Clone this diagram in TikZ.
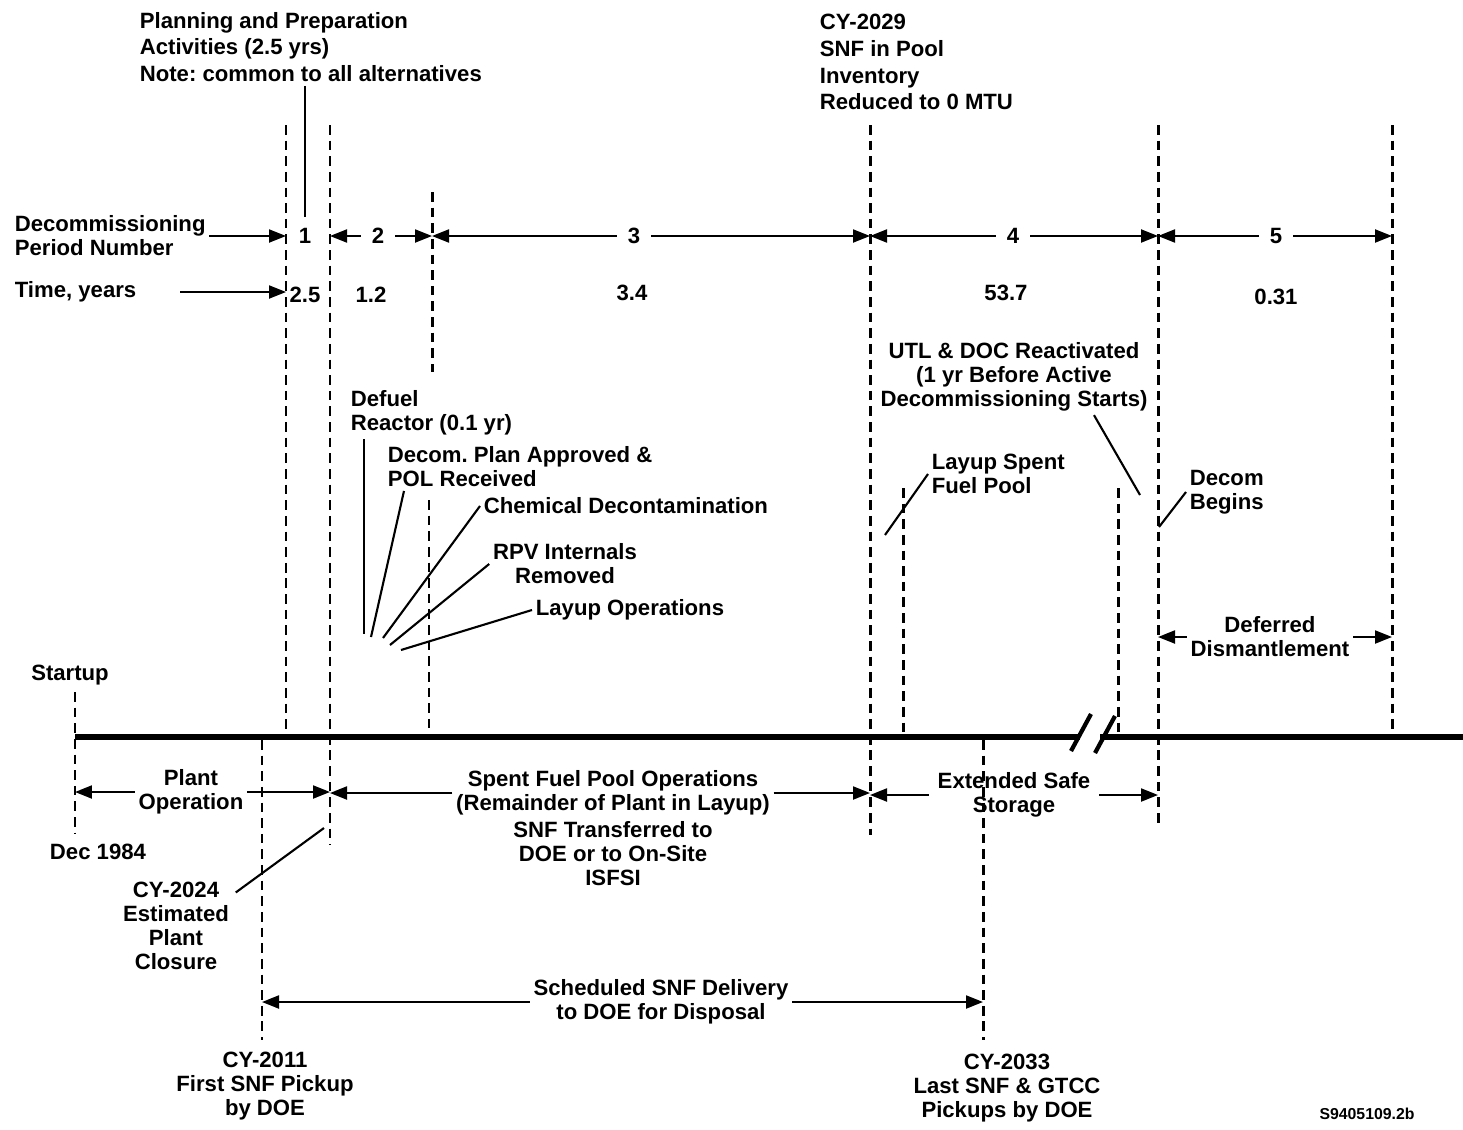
\documentclass[tikz,border=0pt]{standalone}
\usepackage{fontspec}
\setmainfont{Liberation Sans}
\usetikzlibrary{arrows.meta,positioning}
\frenchspacing

\begin{document}
\begin{tikzpicture}[x=0.02cm, y=-0.02cm,
  every node/.style={font=\bfseries\fontsize{12.6}{13.6}\selectfont, align=center, inner sep=2pt},
  toptext/.style={anchor=west, align=left, font=\bfseries\fontsize{12.6}{15.3}\selectfont},
  lefttext/.style={anchor=west, align=left},
  period/.style={inner sep=6pt},
  guide/.style={line width=1.7pt, dash pattern=on 5.5pt off 3.4pt},
  pointer/.style={line width=1.2pt},
  span/.style={line width=1.2pt, -{Triangle[length=0.34cm,width=0.26cm]}},
  axis/.style={line width=3.4pt}]
  \useasboundingbox (0,0) rectangle (1463,1129);

  % dashed guides
  \draw[guide] (75,692) coordinate (gA) -- (75,833);
  \draw[guide] (286,125) coordinate (gB) -- (286,735);
  \draw[guide] (330,125) coordinate (gC) -- (330,845);
  \draw[guide] (432,192) coordinate (gD) -- (432,372);
  \draw[guide] (429,500) coordinate (gL) -- (429,728);
  \draw[guide] (262,740) coordinate (gH) -- (262,1040);
  \draw[guide] (870,125) coordinate (gE) -- (870,835);
  \draw[guide] (903,488) coordinate (gJ) -- (903,733);
  \draw[guide] (1118,488) coordinate (gK) -- (1118,733);
  \draw[guide] (1158,125) coordinate (gF) -- (1158,825);
  \draw[guide] (1392,125) coordinate (gG) -- (1392,735);
  \draw[guide] (983,740) coordinate (gI) -- (983,1040);

  % time axis with break
  \draw[axis] (75,737) -- (1080,737);
  \draw[axis] (1100,737) -- (1463,737);
  \draw[line width=2.4pt] (1071,751) -- (1091,714);
  \draw[line width=2.4pt] (1095,753) -- (1115,716);

  % top notes
  \node[toptext] (PL) at (136,47) {Planning and Preparation\\Activities (2.5 yrs)\\Note: common to all alternatives};
  \node[toptext] (CY29) at (816,62) {CY-2029\\SNF in Pool\\Inventory\\Reduced to 0 MTU};

  % period numbers
  \node[lefttext] (DPN) at (11,236) {Decommissioning\\Period Number};
  \node[period] (N1) at (305,236) {1};
  \node[period] (N2) at (378,236) {2};
  \node[period] (N3) at (634,236) {3};
  \node[period] (N4) at (1013,236) {4};
  \node[period] (N5) at (1276,236) {5};
  \draw[pointer] (PL.south -| N1) -- (N1.north);
  \draw[span] (DPN.east) -- (DPN.east -| gB);
  \draw[span] (N2.west) -- (N2 -| gC);
  \draw[span] (N2.east) -- (N2 -| gD);
  \draw[span] (N3.west) -- (N3 -| gD);
  \draw[span] (N3.east) -- (N3 -| gE);
  \draw[span] (N4.west) -- (N4 -| gE);
  \draw[span] (N4.east) -- (N4 -| gF);
  \draw[span] (N5.west) -- (N5 -| gF);
  \draw[span] (N5.east) -- (N5 -| gG);

  % durations
  \node[lefttext] (TY) at (11,292) {Time, years};
  \node (T1) at (305,295) {2.5};
  \node (T2) at (371,295) {1.2};
  \node (T3) at (632,293) {3.4};
  \node (T4) at (1006,293) {53.7};
  \node (T5) at (1276,297) {0.31};
  \draw[span] ([xshift=0.8cm]TY.east) -- (TY.east -| gB);

  % early events
  \coordinate (f1) at (364,634);
  \coordinate (f2) at (371,637);
  \coordinate (f3) at (383,638);
  \coordinate (f4) at (390,645);
  \coordinate (f5) at (401,650);
  \node[lefttext] (DR) at (347,413) {Defuel\\Reactor (0.1 yr)};
  \node[lefttext] (DP) at (384,467) {Decom. Plan Approved \&\\POL Received};
  \node[lefttext] (CD) at (480,506) {Chemical Decontamination};
  \node (RP) at (565,564) {RPV Internals\\Removed};
  \node[lefttext] (LO) at (532,610) {Layup Operations};
  \draw[pointer] (f1 |- DR.south) -- (f1);
  \draw[pointer] ([xshift=0.4cm]DP.south west) -- (f2);
  \draw[pointer] (CD.west) -- (f3);
  \draw[pointer] (RP.west) -- (f4);
  \draw[pointer] (LO.west) -- (f5);

  % late events
  \coordinate (utl) at (1140,495);
  \coordinate (ls) at (885,535);
  \coordinate (db) at (1159,527);
  \node (UTL) at (1014,377) {UTL \& DOC Reactivated\\(1 yr Before Active\\Decommissioning Starts)};
  \node[lefttext] (LS) at (928,474) {Layup Spent\\Fuel Pool};
  \node[lefttext] (DB) at (1186,492) {Decom\\Begins};
  \node (DD) at (1270,637) {Deferred\\Dismantlement};
  \draw[pointer] ([xshift=1.6cm]UTL.south) -- (utl);
  \draw[pointer] (LS.west) -- (ls);
  \draw[pointer] (DB.west) -- (db);
  \draw[span] (DD.west) -- (DD -| gF);
  \draw[span] (DD.east) -- (DD -| gG);

  % below the axis
  \node (SU) at (70,675) {Startup};
  \node (DEC) at (98,852) {Dec 1984};
  \node (PO) at (191,792) {Plant\\Operation};
  \node (SF) at (613,793) {Spent Fuel Pool Operations\\(Remainder of Plant in Layup)};
  \node[below=-1pt of SF] (SN) {SNF Transferred to\\DOE or to On-Site\\ISFSI};
  \node[inner sep=5pt] (ES) at (1014,795) {Extended Safe\\Storage};
  \draw[span] (PO.west) -- (PO -| gA);
  \draw[span] (PO.east) -- (PO -| gC);
  \draw[span] (SF.west) -- (SF -| gC);
  \draw[span] (SF.east) -- (SF -| gE);
  \draw[span] (ES.west) -- (ES -| gE);
  \draw[span] (ES.east) -- (ES -| gF);

  \coordinate (cl) at (324,828);
  \node (CL) at (176,926) {CY-2024\\Estimated\\Plant\\Closure};
  \draw[pointer] ([shift={(3,14)}]CL.north east) -- (cl);

  \node (SD) at (661,1002) {Scheduled SNF Delivery\\to DOE for Disposal};
  \draw[span] (SD.west) -- (SD -| gH);
  \draw[span] (SD.east) -- (SD -| gI);

  \node (C11) at (265,1086) {CY-2011\\First SNF Pickup\\by DOE};
  \node (C33) at (1007,1088) {CY-2033\\Last SNF \& GTCC\\Pickups by DOE};
  \node[font=\bfseries\fontsize{9}{10}\selectfont] (ID) at (1367,1114) {S9405109.2b};
\end{tikzpicture}
\end{document}
